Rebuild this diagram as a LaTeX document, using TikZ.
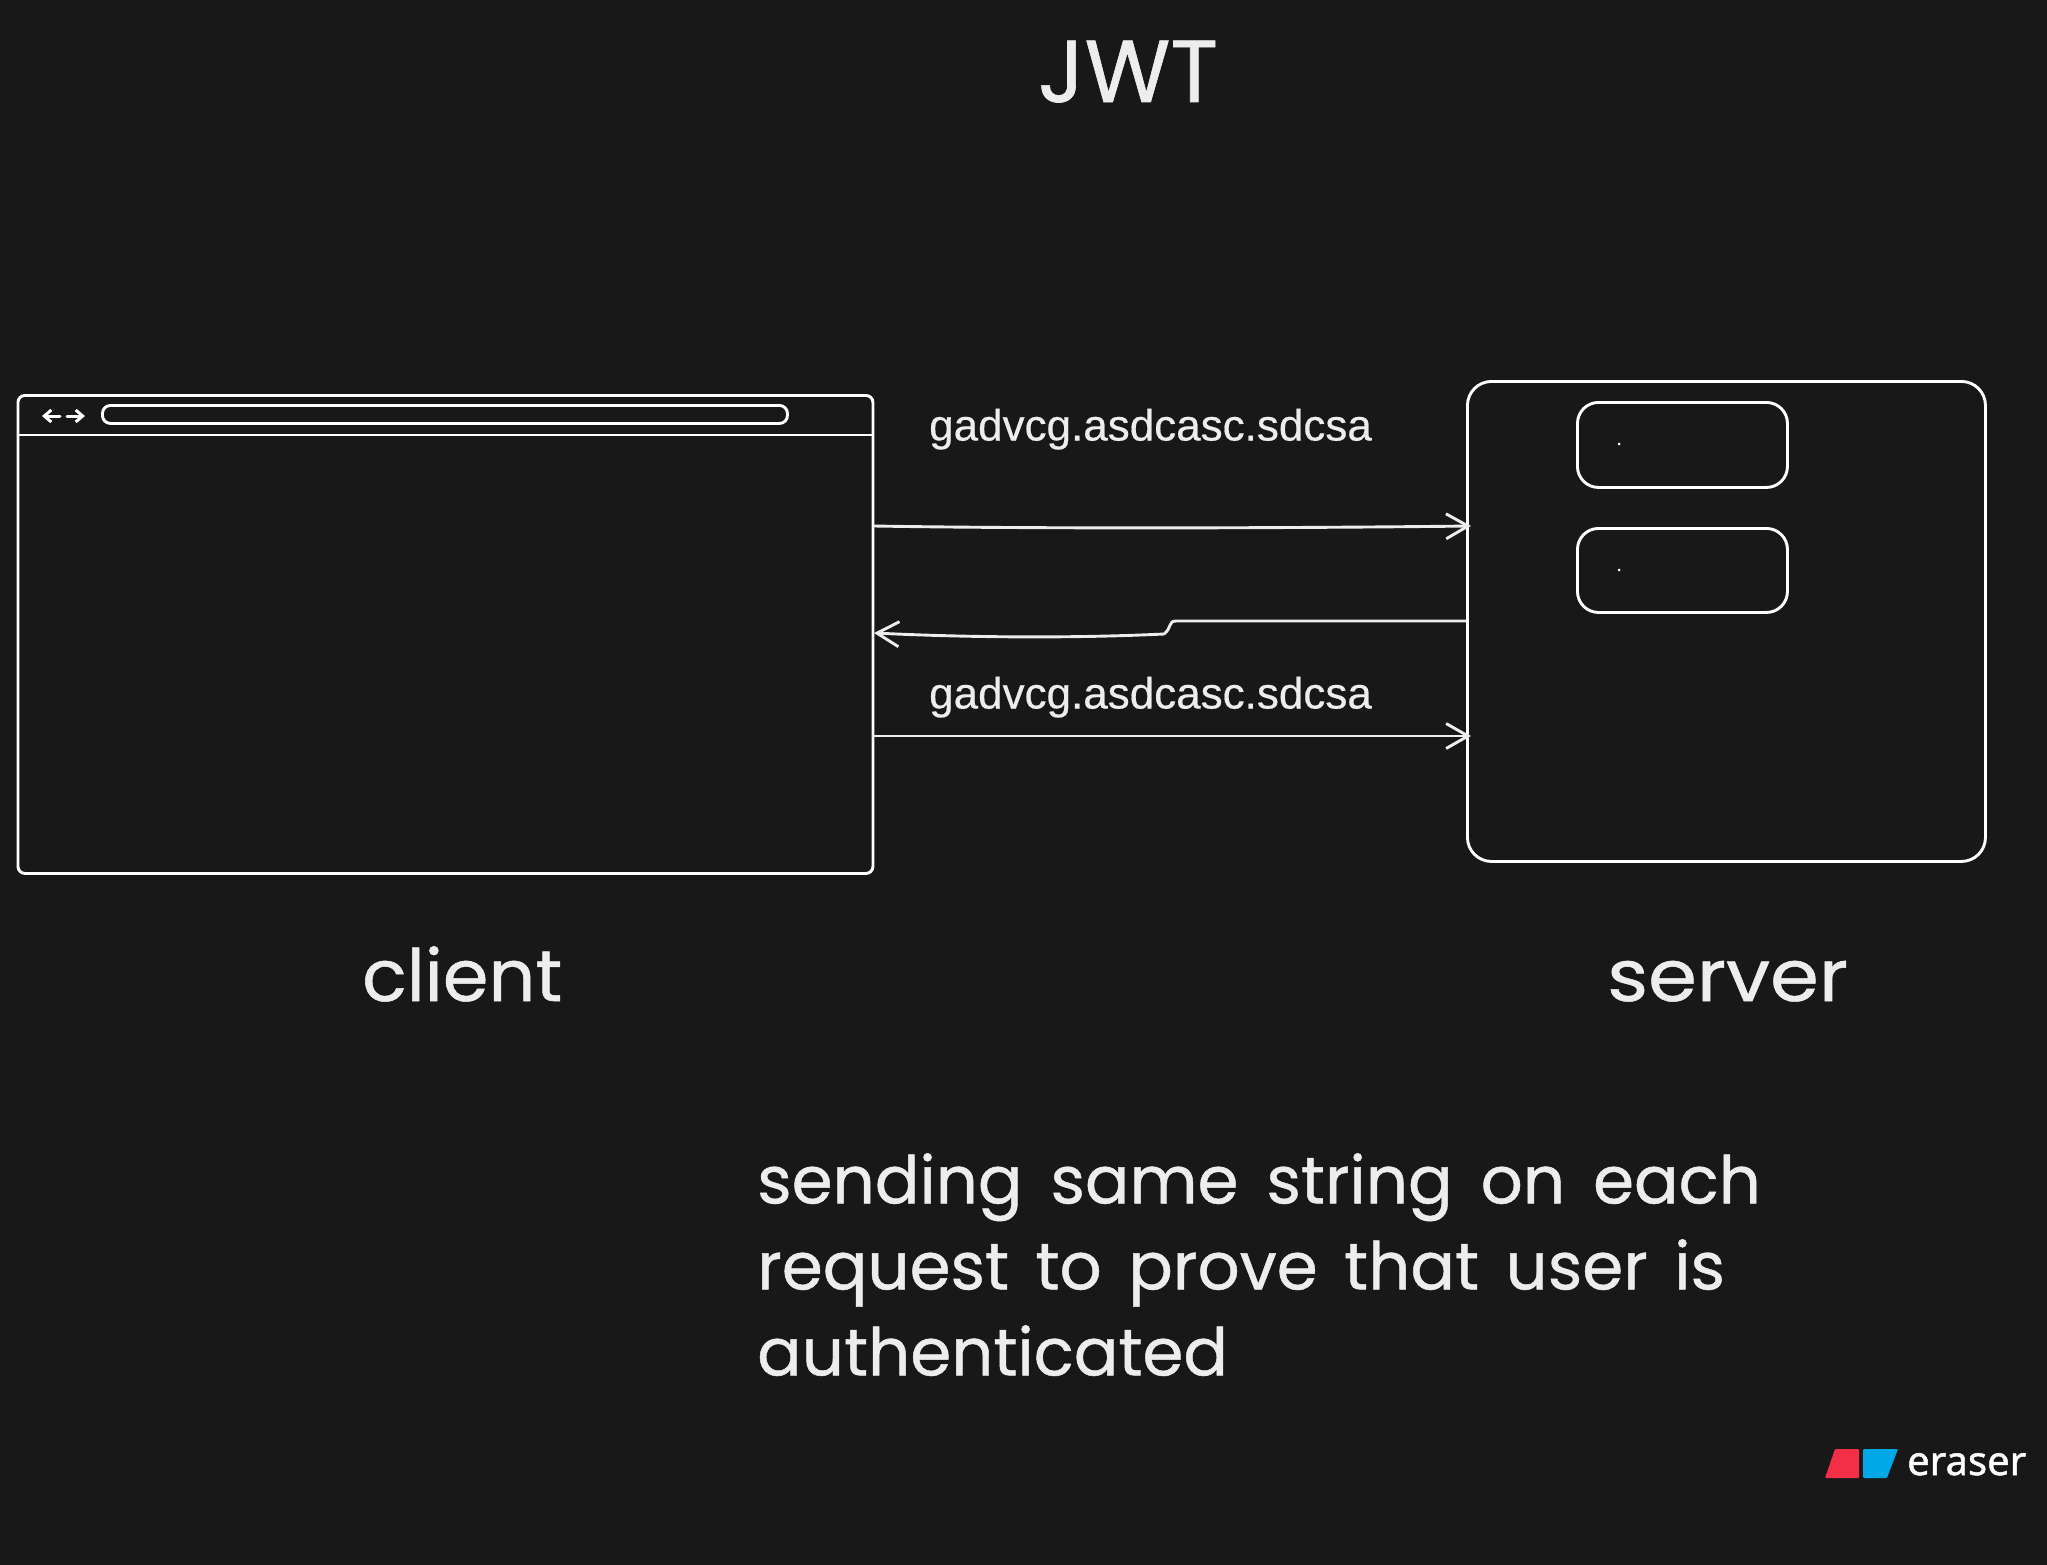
\documentclass[tikz,border=0pt]{standalone}
\usepackage{fontspec}
\setmainfont{Poppins}[FakeBold=0.7]
\newfontfamily\labelfont{Liberation Sans}[FakeBold=0.4]
\newfontfamily\logofont{Noto Sans}[FakeBold=1.2]
\usetikzlibrary{arrows.meta}
\definecolor{bgc}{HTML}{181818}
\definecolor{ink}{HTML}{EDEDED}
\definecolor{logored}{HTML}{F22F46}
\definecolor{logoblue}{HTML}{00A9E5}
\tikzset{
  box/.style={draw=white,line width=2.9pt,inner sep=0pt,rounded corners=#1},
  conn/.style={draw=ink,line width=2.9pt,line cap=round,line join=round,-{Straight Barb[length=22pt,width=25pt,line width=2.9pt]}},
  nav/.style={draw=white,line width=3pt,line cap=round,-{Straight Barb[length=7pt,width=12pt,line width=3pt]}},
  hand/.style={text=ink,inner sep=0pt,anchor=base west},
  mid/.style={hand,anchor=base},
  tok/.style={hand,font=\labelfont\fontsize{44}{44}\selectfont}
}
\begin{document}
\begin{tikzpicture}[x=1pt,y=-1pt]
\useasboundingbox[fill=bgc] (0,0) rectangle (2047,1565);
% title
\node[mid,font=\fontsize{88}{88}\selectfont] (title) at (1128,102) {JWT};
% client
\node[box=7pt,minimum width=855pt,minimum height=478pt,anchor=north west] (browser) at (16.5,394) {};
\coordinate (hl) at (17,435);
\draw[draw=white,line width=2pt] (browser.west |- hl) -- (browser.east |- hl);
\node[box=8pt,minimum width=685pt,minimum height=18pt,anchor=north west] (urlbar) at (101,404) {};
\coordinate (navl) at (60,416);\coordinate (navm1) at (42,416);
\coordinate (navm2) at (67,416);\coordinate (navr) at (85,416);
\draw[nav] (navl) -- (navm1);
\draw[nav] (navm2) -- (navr);
% server
\node[box=24pt,minimum width=518pt,minimum height=480pt,anchor=north west] (server) at (1466,380) {};
\node[box=21pt,minimum width=210pt,minimum height=85pt,anchor=north west] (inner1) at (1576,401) {};
\node[box=21pt,minimum width=210pt,minimum height=84pt,anchor=north west] (inner2) at (1576,527) {};
\node[fill=white,circle,inner sep=0pt,minimum size=3pt] (dot1) at (1619,444) {};
\node[fill=white,circle,inner sep=0pt,minimum size=3pt] (dot2) at (1619,570) {};
% connectors
\coordinate (y1) at (0,526);\coordinate (y2) at (0,621);\coordinate (y3) at (0,736);
\coordinate (k1) at (1176,621);\coordinate (k2) at (1164,634);\coordinate (t2) at (874,633);
\draw[conn] (browser.east |- y1) .. controls (1050,529) and (1300,528) .. ([xshift=5pt]server.west |- y1);
\draw[conn] (server.west |- y2) -- (k1) .. controls (1168,621) and (1172,628) .. (k2) .. controls (1080,638) and (980,638) .. (t2);
\draw[conn] (browser.east |- y3) -- ([xshift=5pt]server.west |- y3);
% labels
\node[tok] (tok1) at (929,440.5) {gadvcg.asdcasc.sdcsa};
\node[tok] (tok2) at (929,708.5) {gadvcg.asdcasc.sdcsa};
\node[hand,font=\fontsize{72}{72}\selectfont] (client) at (362,1001) {\scalebox{1.02}[1]{client}};
\node[hand,font=\fontsize{72}{72}\selectfont] (srv) at (1607,1001) {\scalebox{1.09}[1]{server}};
\node[hand,font=\fontsize{66}{86}\selectfont,align=left,anchor=north west] (note) at (757,1153) {\spaceskip=28pt sending same string on each\\\spaceskip=26.5pt request to prove that user is\\authenticated};
% logo
\fill[logored,rounded corners=1pt] (1835,1449) -- (1859,1449) -- (1859,1478) -- (1825,1478) -- cycle;
\fill[logoblue,rounded corners=1pt] (1863,1449) -- (1898,1449) -- (1887,1478) -- (1863,1478) -- cycle;
\node[hand,text=white,font=\logofont\fontsize{40}{40}\selectfont] (logo) at (1907,1475) {eraser};
\end{tikzpicture}
\end{document}
